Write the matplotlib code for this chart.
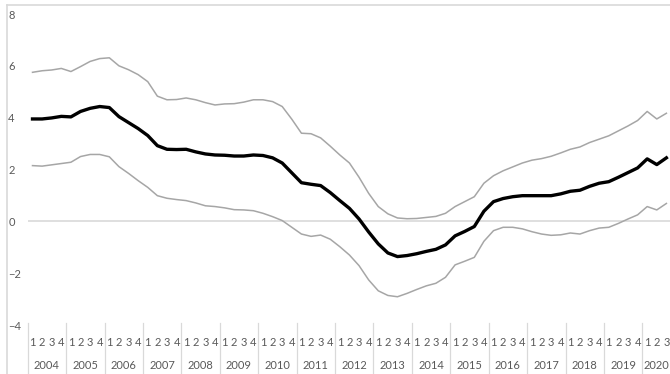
import numpy as np
import matplotlib.pyplot as plt
from matplotlib.lines import Line2D

plt.rcParams['font.family'] = ['Lato', 'DejaVu Sans']

# quarterly series, 2004Q1 .. 2020Q3
years = [str(y) for y in range(2004, 2021)]
quarters = ['1', '2', '3', '4']

central = [3.95, 3.95, 3.99, 4.05, 4.03, 4.24, 4.36, 4.43, 4.39, 4.04, 3.81, 3.58,
           3.31, 2.92, 2.78, 2.77, 2.78, 2.68, 2.60, 2.56, 2.55, 2.52, 2.52, 2.56,
           2.54, 2.45, 2.25, 1.87, 1.49, 1.43, 1.38, 1.11, 0.80, 0.50, 0.09, -0.41,
           -0.87, -1.22, -1.36, -1.32, -1.25, -1.16, -1.08, -0.91, -0.56, -0.39, -0.20, 0.39,
           0.76, 0.88, 0.95, 0.99, 0.99, 0.99, 0.99, 1.06, 1.16, 1.20, 1.35, 1.47,
           1.53, 1.70, 1.88, 2.06, 2.41, 2.19, 2.45]
upper = [5.75, 5.81, 5.84, 5.90, 5.78, 5.97, 6.17, 6.28, 6.31, 6.00, 5.85, 5.66,
         5.39, 4.83, 4.69, 4.70, 4.76, 4.69, 4.58, 4.49, 4.53, 4.54, 4.60, 4.69,
         4.69, 4.62, 4.43, 3.94, 3.40, 3.38, 3.22, 2.90, 2.56, 2.25, 1.70, 1.08,
         0.57, 0.29, 0.13, 0.10, 0.11, 0.15, 0.19, 0.31, 0.57, 0.76, 0.95, 1.47,
         1.76, 1.95, 2.10, 2.25, 2.36, 2.42, 2.51, 2.64, 2.78, 2.87, 3.04, 3.17,
         3.30, 3.49, 3.68, 3.89, 4.24, 3.95, 4.17]
lower = [2.15, 2.13, 2.18, 2.23, 2.28, 2.50, 2.58, 2.58, 2.49, 2.11, 1.85, 1.57,
         1.31, 0.99, 0.89, 0.84, 0.80, 0.71, 0.60, 0.57, 0.52, 0.45, 0.44, 0.41,
         0.31, 0.18, 0.03, -0.23, -0.49, -0.58, -0.53, -0.69, -0.98, -1.30, -1.71, -2.26,
         -2.68, -2.86, -2.91, -2.78, -2.63, -2.49, -2.39, -2.16, -1.68, -1.54, -1.39, -0.77,
         -0.36, -0.23, -0.23, -0.29, -0.40, -0.49, -0.54, -0.52, -0.45, -0.49, -0.36, -0.26,
         -0.23, -0.08, 0.09, 0.25, 0.57, 0.44, 0.69]

n = len(central)
x = np.arange(n)
txt = '#595959'
light = '#d9d9d9'
fs = 8

fig = plt.figure(figsize=(6.7, 3.74), dpi=100)
W, H = 670, 374
ax = fig.add_axes([27.7 / W, 1 - 325 / H, 643.5 / W, 311 / H])

ax.axhline(0, color=light, lw=1.2, zorder=1)
ax.plot(x, upper, color='#a6a6a6', lw=1.1, zorder=2)
ax.plot(x, lower, color='#a6a6a6', lw=1.1, zorder=2)
ax.plot(x, central, color='black', lw=2.4, zorder=3)

ax.set_xlim(-0.5, 66.5)
ax.set_ylim(-4, 8)
ax.set_yticks(range(-4, 9, 2))
ax.tick_params(axis='y', length=0, pad=14, labelsize=fs, labelcolor=txt)
for lab in ax.get_yticklabels():
    lab.set_horizontalalignment('left')
ax.set_xticks([])
for s in ax.spines.values():
    s.set_visible(False)

# two-level category axis: quarter numbers over year labels
tr = ax.get_xaxis_transform()
for i in range(n):
    ax.text(i, -0.056, quarters[i % 4], transform=tr, ha='center', va='center',
            fontsize=fs, color=txt)
for k, yr in enumerate(years):
    first = 4 * k
    last = min(4 * k + 3, n - 1)
    ax.text((first + last) / 2, -0.129, yr, transform=tr, ha='center', va='center',
            fontsize=fs, color=txt)
    ax.add_line(Line2D([first - 0.5, first - 0.5], [0.006, -0.16], transform=tr,
                       color=light, lw=0.9, clip_on=False))

# chart area frame (top and left edges)
fig.add_artist(Line2D([7 / W, 1], [1 - 5.3 / H, 1 - 5.3 / H], color=light, lw=1.2))
fig.add_artist(Line2D([7 / W, 7 / W], [0, 1 - 5.3 / H], color=light, lw=1.2))

fig.savefig('out.png', dpi=100)
